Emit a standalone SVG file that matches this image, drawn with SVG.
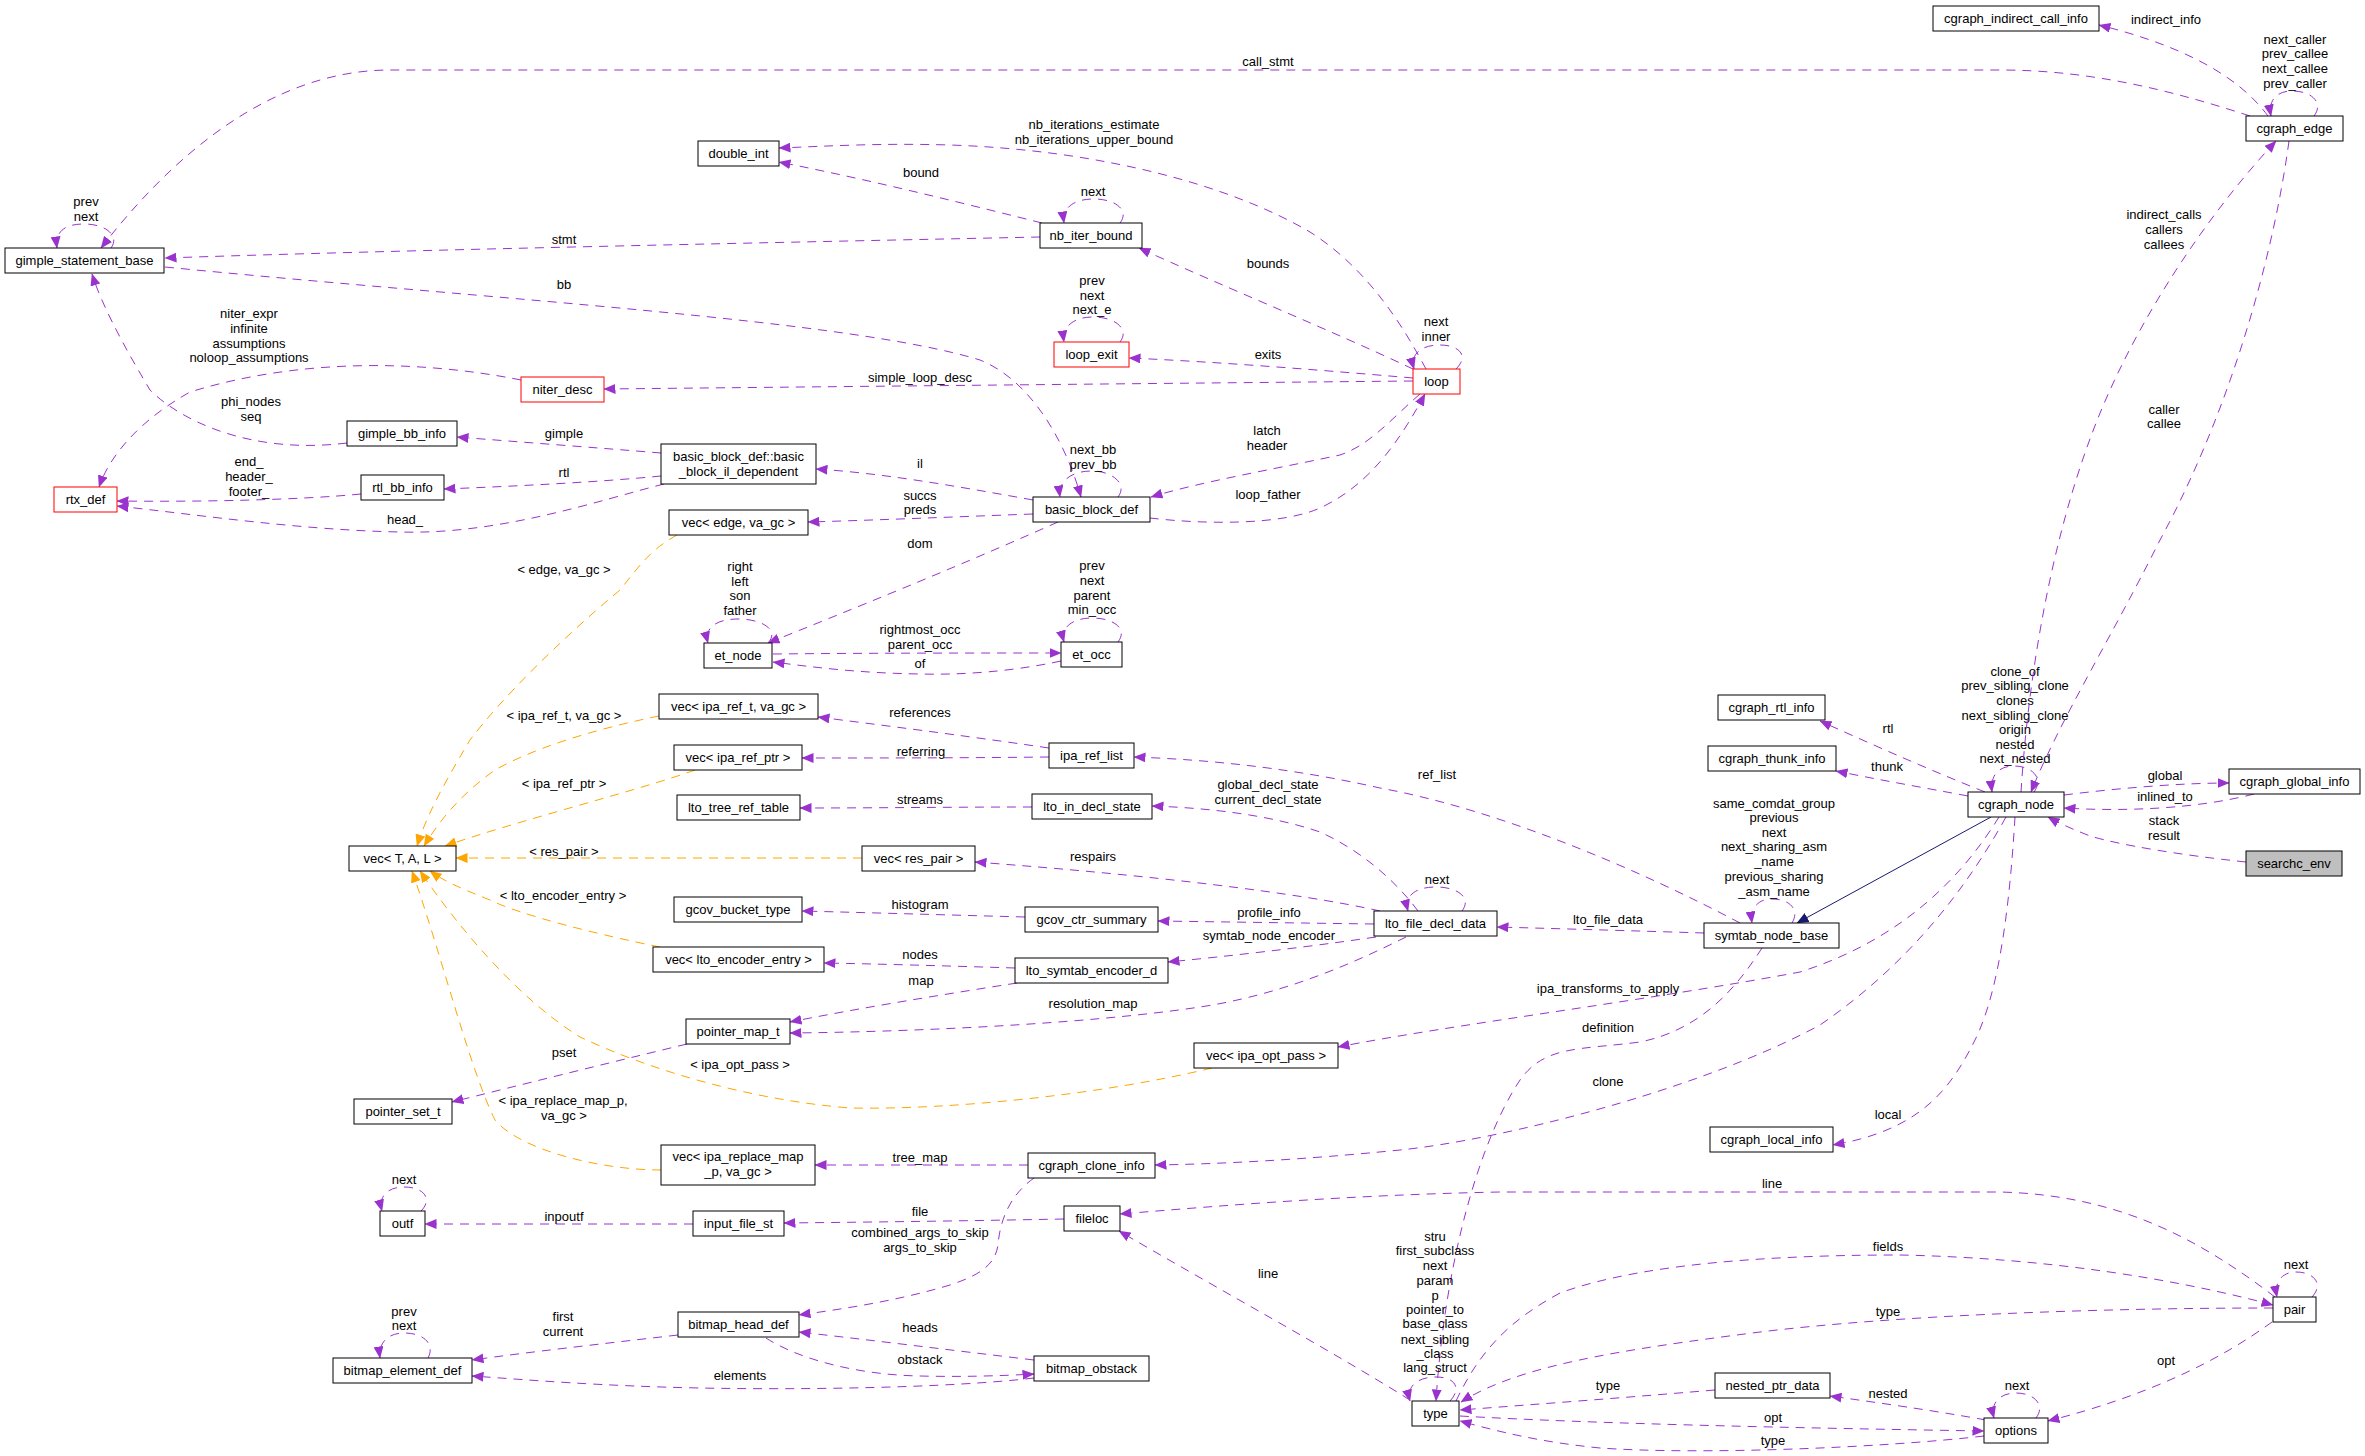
<svg xmlns="http://www.w3.org/2000/svg" width="2365" height="1456" viewBox="0 0 2365 1456">
<defs>
<style>
text{font-family:"Liberation Sans",Arial,sans-serif;font-size:13px;fill:#000;text-anchor:middle}
.node rect{fill:#fff;stroke:#000;stroke-width:1}
.node.red rect{stroke:#ff0000}
.node.gray rect{fill:#bfbfbf}
.edge path{fill:none;stroke:#9a32cd;stroke-width:1;stroke-dasharray:9,7;marker-end:url(#ap)}
.edge.or path{stroke:#ffa500;marker-end:url(#ao)}
.edge.inh path{stroke:#191970;stroke-dasharray:none;marker-end:url(#an)}
</style>
<marker id="ap" viewBox="0 0 12 10" refX="11.5" refY="5" markerWidth="12" markerHeight="10" markerUnits="userSpaceOnUse" orient="auto"><path d="M0,0 L12,5 L0,10 z" fill="#9a32cd" stroke="none"/></marker>
<marker id="ao" viewBox="0 0 12 10" refX="11.5" refY="5" markerWidth="12" markerHeight="10" markerUnits="userSpaceOnUse" orient="auto"><path d="M0,0 L12,5 L0,10 z" fill="#ffa500" stroke="none"/></marker>
<marker id="an" viewBox="0 0 12 10" refX="11.5" refY="5" markerWidth="12" markerHeight="10" markerUnits="userSpaceOnUse" orient="auto"><path d="M0,0 L12,5 L0,10 z" fill="#191970" stroke="none"/></marker>
</defs>
<rect width="2365" height="1456" fill="#fff"/>
<g id="edges">
<g class="edge"><path d="M111,248 C120,236 106,224 84,224 C64,224 55,232 57,248"/><text x="86" y="205.5">prev</text><text x="86" y="220.5">next</text></g>
<g class="edge"><path d="M2250,116 C2170,90 2090,70 2000,70 L390,70 C300,70 200,120 101,248"/><text x="1268" y="65.5">call_stmt</text></g>
<g class="edge"><path d="M1040,237 C800,242 400,250 165,258"/><text x="564" y="243.5">stmt</text></g>
<g class="edge"><path d="M165,267 C500,300 850,320 980,360 C1030,380 1065,440 1081,497"/><text x="564" y="288.5">bb</text></g>
<g class="edge"><path d="M521,380 C420,360 300,358 190,392 C140,420 110,455 99,487"/><text x="249" y="317.5">niter_expr</text><text x="249" y="332.5">infinite</text><text x="249" y="347.5">assumptions</text><text x="249" y="361.5">noloop_assumptions</text></g>
<g class="edge"><path d="M347,443 C250,455 180,420 150,390 C120,340 100,300 92,274"/><text x="251" y="405.5">phi_nodes</text><text x="251" y="420.5">seq</text></g>
<g class="edge"><path d="M361,494 C300,500 200,502 117,501"/><text x="249" y="465.5">end_</text><text x="249" y="480.5">header_</text><text x="249" y="495.5">footer_</text></g>
<g class="edge"><path d="M661,453 C600,448 520,442 457,437"/><text x="564" y="437.5">gimple</text></g>
<g class="edge"><path d="M661,476 C600,482 520,486 444,489"/><text x="564" y="476.5">rtl</text></g>
<g class="edge"><path d="M664,484 C600,500 500,535 400,532 C300,530 200,515 117,506"/><text x="405" y="523.5">head_</text></g>
<g class="edge"><path d="M1033,500 C950,485 880,473 816,469"/><text x="920" y="467.5">il</text></g>
<g class="edge"><path d="M1033,514 C950,517 880,520 808,522"/><text x="920" y="499.5">succs</text><text x="920" y="513.5">preds</text></g>
<g class="edge"><path d="M1058,522 C950,570 850,610 768,643"/><text x="920" y="547.5">dom</text></g>
<g class="edge"><path d="M1118,497 C1128,484 1112,471 1092,471 C1070,471 1058,482 1060,497"/><text x="1093" y="453.5">next_bb</text><text x="1093" y="468.5">prev_bb</text></g>
<g class="edge"><path d="M1150,518 C1200,524 1280,526 1320,508 C1370,485 1400,440 1425,394"/><text x="1268" y="498.5">loop_father</text></g>
<g class="edge"><path d="M1420,394 C1390,420 1370,445 1340,455 C1270,470 1200,482 1151,497"/><text x="1267" y="434.5">latch</text><text x="1267" y="449.5">header</text></g>
<g class="edge"><path d="M1413,369 C1330,330 1220,285 1139,248"/><text x="1268" y="267.5">bounds</text></g>
<g class="edge"><path d="M1426,369 C1405,330 1370,270 1310,232 C1230,185 1100,150 950,145 C880,143 830,146 779,148"/><text x="1094" y="128.5">nb_iterations_estimate</text><text x="1094" y="143.5">nb_iterations_upper_bound</text></g>
<g class="edge"><path d="M1042,223 C950,200 870,180 779,162"/><text x="921" y="176.5">bound</text></g>
<g class="edge"><path d="M1120,223 C1130,210 1115,199 1094,199 C1072,199 1062,209 1064,223"/><text x="1093" y="195.5">next</text></g>
<g class="edge"><path d="M1413,378 C1320,370 1220,362 1129,358"/><text x="1268" y="358.5">exits</text></g>
<g class="edge"><path d="M1120,342 C1130,329 1115,317 1093,317 C1072,317 1062,328 1064,342"/><text x="1092" y="284.5">prev</text><text x="1092" y="299.5">next</text><text x="1092" y="313.5">next_e</text></g>
<g class="edge"><path d="M1413,381 C1100,384 800,387 604,389"/><text x="920" y="381.5">simple_loop_desc</text></g>
<g class="edge"><path d="M1456,369 C1470,355 1458,345 1440,345 C1420,345 1410,355 1414,369"/><text x="1436" y="325.5">next</text><text x="1436" y="340.5">inner</text></g>
<g class="edge or"><path d="M677,535 C650,550 640,565 620,590 C560,640 500,700 470,740 C440,790 425,820 417,846"/><text x="564" y="573.5">&lt; edge, va_gc &gt;</text></g>
<g class="edge"><path d="M768,643 C780,630 762,619 738,619 C716,619 704,628 708,643"/><text x="740" y="570.5">right</text><text x="740" y="585.5">left</text><text x="740" y="599.5">son</text><text x="740" y="614.5">father</text></g>
<g class="edge"><path d="M773,654 C870,653 980,653 1061,653"/><text x="920" y="633.5">rightmost_occ</text><text x="920" y="648.5">parent_occ</text></g>
<g class="edge"><path d="M1061,661 C1010,672 960,675 920,674 C860,673 820,668 773,662"/><text x="920" y="667.5">of</text></g>
<g class="edge"><path d="M1118,642 C1128,629 1114,618 1092,618 C1072,618 1060,628 1064,642"/><text x="1092" y="569.5">prev</text><text x="1092" y="584.5">next</text><text x="1092" y="599.5">parent</text><text x="1092" y="613.5">min_occ</text></g>
<g class="edge or"><path d="M659,716 C590,730 530,750 495,770 C460,795 440,820 424,846"/><text x="564" y="719.5">&lt; ipa_ref_t, va_gc &gt;</text></g>
<g class="edge"><path d="M1049,748 C960,735 880,725 818,717"/><text x="920" y="716.5">references</text></g>
<g class="edge"><path d="M1049,757 C960,758 880,758 802,758"/><text x="921" y="755.5">referring</text></g>
<g class="edge or"><path d="M695,770 C640,790 520,820 445,846"/><text x="564" y="787.5">&lt; ipa_ref_ptr &gt;</text></g>
<g class="edge"><path d="M1032,807 C950,807 880,808 800,808"/><text x="920" y="803.5">streams</text></g>
<g class="edge or"><path d="M862,858 L456,858"/><text x="564" y="855.5">&lt; res_pair &gt;</text></g>
<g class="edge"><path d="M1380,911 C1300,893 1150,875 975,862"/><text x="1093" y="860.5">respairs</text></g>
<g class="edge"><path d="M1025,917 C950,915 880,913 802,911"/><text x="920" y="908.5">histogram</text></g>
<g class="edge"><path d="M1374,924 C1300,923 1230,922 1158,921"/><text x="1269" y="916.5">profile_info</text></g>
<g class="edge or"><path d="M660,947 C600,935 520,915 490,900 C465,890 445,882 430,871"/><text x="563" y="899.5">&lt; lto_encoder_entry &gt;</text></g>
<g class="edge"><path d="M1015,968 C950,966 880,964 824,963"/><text x="920" y="958.5">nodes</text></g>
<g class="edge"><path d="M1376,937 C1300,948 1230,956 1168,962"/><text x="1269" y="939.5">symtab_node_encoder</text></g>
<g class="edge"><path d="M1017,983 C940,995 860,1008 790,1022"/><text x="921" y="984.5">map</text></g>
<g class="edge"><path d="M1406,937 C1350,965 1280,995 1200,1007 C1080,1025 900,1032 790,1033"/><text x="1093" y="1007.5">resolution_map</text></g>
<g class="edge"><path d="M1418,911 C1395,880 1360,850 1320,832 C1270,815 1210,808 1152,806"/><text x="1268" y="788.5">global_decl_state</text><text x="1268" y="803.5">current_decl_state</text></g>
<g class="edge"><path d="M1462,911 C1472,898 1458,887 1436,887 C1415,887 1404,896 1408,911"/><text x="1437" y="883.5">next</text></g>
<g class="edge"><path d="M1704,933 C1640,931 1570,929 1497,927"/><text x="1608" y="923.5">lto_file_data</text></g>
<g class="edge"><path d="M1740,923 C1640,870 1500,810 1380,788 C1300,770 1220,760 1134,757"/><text x="1437" y="778.5">ref_list</text></g>
<g class="edge"><path d="M1792,923 C1800,910 1790,899 1772,899 C1758,899 1750,908 1752,923"/><text x="1774" y="807.5">same_comdat_group</text><text x="1774" y="821.5">previous</text><text x="1774" y="836.5">next</text><text x="1774" y="850.5">next_sharing_asm</text><text x="1774" y="865.5">_name</text><text x="1774" y="880.5">previous_sharing</text><text x="1774" y="895.5">_asm_name</text></g>
<g class="edge inh"><path d="M1991,817 L1797,923"/></g>
<g class="edge"><path d="M1985,792 C1930,770 1880,748 1820,721"/><text x="1888" y="732.5">rtl</text></g>
<g class="edge"><path d="M1968,796 C1920,787 1880,780 1836,771"/><text x="1887" y="770.5">thunk</text></g>
<g class="edge"><path d="M2034,792 C2044,778 2032,766 2014,766 C1998,766 1990,776 1992,792"/><text x="2015" y="675.5">clone_of</text><text x="2015" y="689.5">prev_sibling_clone</text><text x="2015" y="704.5">clones</text><text x="2015" y="719.5">next_sibling_clone</text><text x="2015" y="733.5">origin</text><text x="2015" y="748.5">nested</text><text x="2015" y="762.5">next_nested</text></g>
<g class="edge"><path d="M2021,792 C2030,650 2060,500 2110,390 C2160,280 2230,190 2276,141"/><text x="2164" y="218.5">indirect_calls</text><text x="2164" y="233.5">callers</text><text x="2164" y="248.5">callees</text></g>
<g class="edge"><path d="M2289,141 C2270,280 2220,430 2160,540 C2110,640 2060,720 2031,792"/><text x="2164" y="413.5">caller</text><text x="2164" y="427.5">callee</text></g>
<g class="edge"><path d="M2268,116 C2245,85 2200,50 2099,25"/><text x="2166" y="23.5">indirect_info</text></g>
<g class="edge"><path d="M2314,116 C2324,103 2312,91 2292,91 C2276,91 2268,101 2271,116"/><text x="2295" y="43.5">next_caller</text><text x="2295" y="57.5">prev_callee</text><text x="2295" y="72.5">next_callee</text><text x="2295" y="87.5">prev_caller</text></g>
<g class="edge"><path d="M2064,795 C2120,788 2180,783 2229,783"/><text x="2165" y="779.5">global</text></g>
<g class="edge"><path d="M2254,794 C2200,808 2130,812 2064,808"/><text x="2165" y="800.5">inlined_to</text></g>
<g class="edge"><path d="M2246,862 C2180,855 2120,845 2090,836 C2075,830 2060,824 2048,817"/><text x="2164" y="824.5">stack</text><text x="2164" y="839.5">result</text></g>
<g class="edge"><path d="M1999,817 C1960,880 1900,940 1800,972 C1650,1000 1450,1025 1338,1047"/><text x="1608" y="992.5">ipa_transforms_to_apply</text></g>
<g class="edge"><path d="M2006,817 C1960,900 1900,970 1820,1025 C1700,1090 1500,1140 1400,1150 C1300,1160 1220,1164 1155,1165"/><text x="1608" y="1085.5">clone</text></g>
<g class="edge"><path d="M2015,817 C2010,900 2000,990 1975,1040 C1950,1090 1920,1130 1833,1145"/><text x="1888" y="1118.5">local</text></g>
<g class="edge"><path d="M1762,948 C1735,990 1700,1030 1640,1042 C1580,1050 1545,1045 1520,1080 C1480,1140 1445,1260 1436,1401"/><text x="1608" y="1031.5">definition</text></g>
<g class="edge"><path d="M1450,1401 C1462,1388 1455,1377 1436,1377 C1418,1377 1406,1386 1410,1401"/><text x="1435" y="1240.5">stru</text><text x="1435" y="1254.5">first_subclass</text><text x="1435" y="1269.5">next</text><text x="1435" y="1284.5">param</text><text x="1435" y="1299.5">p</text><text x="1435" y="1313.5">pointer_to</text><text x="1435" y="1327.5">base_class</text><text x="1435" y="1343.5">next_sibling</text><text x="1435" y="1357.5">_class</text><text x="1435" y="1371.5">lang_struct</text></g>
<g class="edge"><path d="M1410,1400 C1330,1350 1220,1290 1119,1231"/><text x="1268" y="1277.5">line</text></g>
<g class="edge"><path d="M2275,1297 C2200,1240 2120,1195 2000,1192 L1500,1192 C1350,1195 1230,1205 1120,1214"/><text x="1772" y="1187.5">line</text></g>
<g class="edge"><path d="M1456,1401 C1480,1350 1510,1320 1560,1293 C1650,1260 1800,1255 1900,1255 C2050,1258 2180,1280 2273,1305"/><text x="1888" y="1250.5">fields</text></g>
<g class="edge"><path d="M2273,1308 C2100,1308 1900,1315 1760,1332 C1620,1350 1520,1365 1461,1402"/><text x="1888" y="1315.5">type</text></g>
<g class="edge"><path d="M1715,1390 C1620,1398 1540,1404 1460,1410"/><text x="1608" y="1389.5">type</text></g>
<g class="edge"><path d="M1460,1416 C1600,1424 1800,1428 1984,1431"/><text x="1773" y="1421.5">opt</text></g>
<g class="edge"><path d="M1984,1436 C1880,1448 1700,1455 1600,1448 C1540,1442 1500,1432 1460,1421"/><text x="1773" y="1444.5">type</text></g>
<g class="edge"><path d="M1986,1420 C1930,1410 1880,1403 1830,1396"/><text x="1888" y="1397.5">nested</text></g>
<g class="edge"><path d="M2036,1418 C2046,1405 2034,1393 2016,1393 C2000,1393 1990,1403 1994,1418"/><text x="2017" y="1389.5">next</text></g>
<g class="edge"><path d="M2312,1297 C2324,1284 2314,1272 2296,1272 C2282,1272 2274,1282 2277,1297"/><text x="2296" y="1268.5">next</text></g>
<g class="edge"><path d="M2272,1322 C2220,1360 2150,1395 2048,1421"/><text x="2166" y="1364.5">opt</text></g>
<g class="edge"><path d="M1028,1165 L815,1165"/><text x="920" y="1161.5">tree_map</text></g>
<g class="edge"><path d="M1034,1178 C1010,1195 1000,1220 998,1245 C995,1265 980,1275 950,1285 C900,1300 850,1308 799,1315"/><text x="920" y="1236.5">combined_args_to_skip</text><text x="920" y="1251.5">args_to_skip</text></g>
<g class="edge or"><path d="M661,1170 C600,1170 520,1150 495,1120 C470,1070 440,950 412,871"/><text x="563" y="1104.5">&lt; ipa_replace_map_p,</text><text x="564" y="1119.5">va_gc &gt;</text></g>
<g class="edge or"><path d="M1212,1068 C1100,1095 950,1110 850,1108 C750,1100 650,1070 580,1037 C520,1000 460,930 420,871"/><text x="740" y="1068.5">&lt; ipa_opt_pass &gt;</text></g>
<g class="edge"><path d="M687,1044 C600,1065 520,1085 452,1102"/><text x="564" y="1056.5">pset</text></g>
<g class="edge"><path d="M693,1224 L425,1224"/><text x="564" y="1220.5">inpoutf</text></g>
<g class="edge"><path d="M1064,1219 C960,1221 880,1222 784,1223"/><text x="920" y="1215.5">file</text></g>
<g class="edge"><path d="M421,1211 C433,1199 424,1187 404,1187 C388,1187 378,1196 382,1211"/><text x="404" y="1183.5">next</text></g>
<g class="edge"><path d="M678,1335 C600,1344 530,1352 472,1360"/><text x="563" y="1320.5">first</text><text x="563" y="1335.5">current</text></g>
<g class="edge"><path d="M1034,1378 C950,1388 800,1390 700,1388 C600,1386 530,1380 472,1376"/><text x="740" y="1379.5">elements</text></g>
<g class="edge"><path d="M1034,1360 C950,1350 870,1340 799,1332"/><text x="920" y="1331.5">heads</text></g>
<g class="edge"><path d="M766,1338 C800,1360 860,1375 920,1376 C960,1377 1000,1376 1034,1374"/><text x="920" y="1363.5">obstack</text></g>
<g class="edge"><path d="M428,1358 C435,1345 425,1333 404,1333 C388,1333 378,1343 380,1358"/><text x="404" y="1315.5">prev</text><text x="404" y="1329.5">next</text></g>
</g>
<g id="nodes">
<g id="n_gimple_statement_base" class="node"><rect x="5" y="248" width="159" height="25"/><text x="84.5" y="265">gimple_statement_base</text></g>
<g id="n_double_int" class="node"><rect x="698" y="141" width="81" height="25"/><text x="738.5" y="158">double_int</text></g>
<g id="n_nb_iter_bound" class="node"><rect x="1040" y="223" width="102" height="25"/><text x="1091" y="240">nb_iter_bound</text></g>
<g id="n_loop_exit" class="node red"><rect x="1054" y="342" width="75" height="25"/><text x="1091.5" y="359">loop_exit</text></g>
<g id="n_loop" class="node red"><rect x="1413" y="369" width="47" height="25"/><text x="1436.5" y="386">loop</text></g>
<g id="n_niter_desc" class="node red"><rect x="521" y="377" width="83" height="25"/><text x="562.5" y="394">niter_desc</text></g>
<g id="n_gimple_bb_info" class="node"><rect x="347" y="421" width="110" height="25"/><text x="402" y="438">gimple_bb_info</text></g>
<g id="n_rtl_bb_info" class="node"><rect x="361" y="475" width="83" height="25"/><text x="402.5" y="492">rtl_bb_info</text></g>
<g id="n_rtx_def" class="node red"><rect x="54" y="487" width="63" height="25"/><text x="85.5" y="504">rtx_def</text></g>
<g id="n_basic_block_il_dependent" class="node"><rect x="661" y="444" width="155" height="40"/><text x="738.5" y="460.5">basic_block_def::basic</text><text x="738.5" y="475.5">_block_il_dependent</text></g>
<g id="n_basic_block_def" class="node"><rect x="1033" y="497" width="117" height="25"/><text x="1091.5" y="514">basic_block_def</text></g>
<g id="n_vec_edge" class="node"><rect x="669" y="510" width="139" height="25"/><text x="738.5" y="527">vec&lt; edge, va_gc &gt;</text></g>
<g id="n_et_node" class="node"><rect x="704" y="643" width="68" height="25"/><text x="738" y="660">et_node</text></g>
<g id="n_et_occ" class="node"><rect x="1061" y="642" width="61" height="25"/><text x="1091.5" y="659">et_occ</text></g>
<g id="n_vec_ipa_ref_t" class="node"><rect x="659" y="694" width="159" height="25"/><text x="738.5" y="711">vec&lt; ipa_ref_t, va_gc &gt;</text></g>
<g id="n_vec_ipa_ref_ptr" class="node"><rect x="674" y="745" width="128" height="25"/><text x="738" y="762">vec&lt; ipa_ref_ptr &gt;</text></g>
<g id="n_ipa_ref_list" class="node"><rect x="1049" y="743" width="85" height="25"/><text x="1091.5" y="760">ipa_ref_list</text></g>
<g id="n_lto_tree_ref_table" class="node"><rect x="677" y="795" width="123" height="25"/><text x="738.5" y="812">lto_tree_ref_table</text></g>
<g id="n_lto_in_decl_state" class="node"><rect x="1032" y="794" width="120" height="25"/><text x="1092" y="811">lto_in_decl_state</text></g>
<g id="n_vec_T_A_L" class="node"><rect x="349" y="846" width="107" height="25"/><text x="402.5" y="863">vec&lt; T, A, L &gt;</text></g>
<g id="n_vec_res_pair" class="node"><rect x="862" y="846" width="113" height="25"/><text x="918.5" y="863">vec&lt; res_pair &gt;</text></g>
<g id="n_gcov_bucket_type" class="node"><rect x="674" y="897" width="128" height="25"/><text x="738" y="914">gcov_bucket_type</text></g>
<g id="n_gcov_ctr_summary" class="node"><rect x="1025" y="907" width="133" height="25"/><text x="1091.5" y="924">gcov_ctr_summary</text></g>
<g id="n_vec_lto_encoder_entry" class="node"><rect x="653" y="947" width="171" height="25"/><text x="738.5" y="964">vec&lt; lto_encoder_entry &gt;</text></g>
<g id="n_lto_symtab_encoder_d" class="node"><rect x="1015" y="958" width="153" height="25"/><text x="1091.5" y="975">lto_symtab_encoder_d</text></g>
<g id="n_lto_file_decl_data" class="node"><rect x="1374" y="911" width="123" height="25"/><text x="1435.5" y="928">lto_file_decl_data</text></g>
<g id="n_symtab_node_base" class="node"><rect x="1704" y="923" width="135" height="25"/><text x="1771.5" y="940">symtab_node_base</text></g>
<g id="n_cgraph_rtl_info" class="node"><rect x="1718" y="695" width="107" height="25"/><text x="1771.5" y="712">cgraph_rtl_info</text></g>
<g id="n_cgraph_thunk_info" class="node"><rect x="1708" y="746" width="128" height="25"/><text x="1772" y="763">cgraph_thunk_info</text></g>
<g id="n_cgraph_node" class="node"><rect x="1968" y="792" width="96" height="25"/><text x="2016" y="809">cgraph_node</text></g>
<g id="n_cgraph_global_info" class="node"><rect x="2229" y="769" width="131" height="25"/><text x="2294.5" y="786">cgraph_global_info</text></g>
<g id="n_searchc_env" class="node gray"><rect x="2246" y="851" width="96" height="25"/><text x="2294" y="868">searchc_env</text></g>
<g id="n_cgraph_indirect_call_info" class="node"><rect x="1933" y="6" width="166" height="25"/><text x="2016" y="23">cgraph_indirect_call_info</text></g>
<g id="n_cgraph_edge" class="node"><rect x="2246" y="116" width="97" height="25"/><text x="2294.5" y="133">cgraph_edge</text></g>
<g id="n_pointer_map_t" class="node"><rect x="686" y="1019" width="104" height="25"/><text x="738" y="1036">pointer_map_t</text></g>
<g id="n_pointer_set_t" class="node"><rect x="354" y="1099" width="98" height="25"/><text x="403" y="1116">pointer_set_t</text></g>
<g id="n_vec_ipa_opt_pass" class="node"><rect x="1194" y="1043" width="144" height="25"/><text x="1266" y="1060">vec&lt; ipa_opt_pass &gt;</text></g>
<g id="n_cgraph_local_info" class="node"><rect x="1710" y="1127" width="123" height="25"/><text x="1771.5" y="1144">cgraph_local_info</text></g>
<g id="n_vec_ipa_replace_map" class="node"><rect x="661" y="1145" width="154" height="40"/><text x="738" y="1161">vec&lt; ipa_replace_map</text><text x="738" y="1176">_p, va_gc &gt;</text></g>
<g id="n_cgraph_clone_info" class="node"><rect x="1028" y="1153" width="127" height="25"/><text x="1091.5" y="1170">cgraph_clone_info</text></g>
<g id="n_outf" class="node"><rect x="380" y="1211" width="45" height="25"/><text x="402.5" y="1228">outf</text></g>
<g id="n_input_file_st" class="node"><rect x="693" y="1211" width="91" height="25"/><text x="738.5" y="1228">input_file_st</text></g>
<g id="n_fileloc" class="node"><rect x="1064" y="1206" width="56" height="25"/><text x="1092" y="1223">fileloc</text></g>
<g id="n_bitmap_head_def" class="node"><rect x="678" y="1312" width="121" height="25"/><text x="738.5" y="1329">bitmap_head_def</text></g>
<g id="n_bitmap_obstack" class="node"><rect x="1034" y="1356" width="115" height="25"/><text x="1091.5" y="1373">bitmap_obstack</text></g>
<g id="n_bitmap_element_def" class="node"><rect x="333" y="1358" width="139" height="25"/><text x="402.5" y="1375">bitmap_element_def</text></g>
<g id="n_type" class="node"><rect x="1412" y="1401" width="47" height="25"/><text x="1435.5" y="1418">type</text></g>
<g id="n_nested_ptr_data" class="node"><rect x="1715" y="1373" width="115" height="25"/><text x="1772.5" y="1390">nested_ptr_data</text></g>
<g id="n_options" class="node"><rect x="1984" y="1418" width="64" height="25"/><text x="2016" y="1435">options</text></g>
<g id="n_pair" class="node"><rect x="2273" y="1297" width="43" height="25"/><text x="2294.5" y="1314">pair</text></g>
</g>
</svg>
